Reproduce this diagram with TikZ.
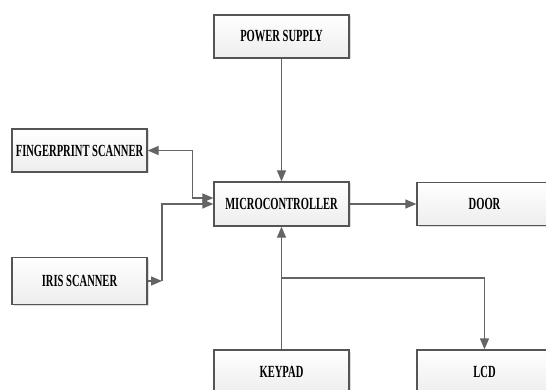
\documentclass[tikz,border=0pt]{standalone}
\usepackage{fontspec}
\setmainfont{Liberation Serif}[FakeStretch=0.62]
\usepackage{tikz}
\usetikzlibrary{arrows.meta, shadows}
\definecolor{linegray}{RGB}{100,100,100}
\definecolor{boxgray}{RGB}{85,85,85}
\tikzset{
    normal/.style={draw=boxgray, line width=1.3pt},
    block/.style={style=normal, rectangle, minimum width=135pt, minimum height=43pt,
        top color=white, bottom color=gray!14,
        drop shadow={shadow xshift=1.5pt, shadow yshift=-1.5pt, fill=gray!55},
        font=\fontsize{17}{17}\selectfont\bfseries},
    link/.style={draw=linegray, line width=1.3pt, -{Triangle[length=11pt, width=9pt]}}
}

\begin{document}
\begin{tikzpicture}[x=1pt, y=-1pt]
          \useasboundingbox (0,0) rectangle (546,390);
          \node[block] (power) at (281.5, 36.5) {POWER SUPPLY};
          \node[block, minimum height=44pt] (micro) at (281.5, 204) {MICROCONTROLLER};
          \node[block] (door) at (484.5, 204) {DOOR};
          \node[block] (finger) at (79.5, 150.5) {FINGERPRINT SCANNER};
          \node[block, minimum height=47pt] (iris) at (79.5, 281) {IRIS SCANNER};
          \node[block, minimum height=44pt] (keypad) at (281.5, 372) {KEYPAD};
          \node[block, minimum height=44pt] (lcd) at (484.5, 372) {LCD};
          \coordinate (irisbend) at (162, 281);
          \coordinate (split) at (281.5, 278);

          \draw[link] (power) to (micro);
          \draw[link] (micro) to (door);
          \draw[link, {Triangle[length=11pt, width=9pt]}-{Triangle[length=11pt, width=9pt]}]
              (finger.east) -- ++(45,0) |- ([yshift=6pt]micro.west);
          \draw[link] (iris.east) -- (irisbend);
          \draw[link] (irisbend) |- (micro.west);
          \draw[link] (keypad.north) -- (micro.south);
          \draw[link] (split) -| (lcd.north);
        \end{tikzpicture}
\end{document}
